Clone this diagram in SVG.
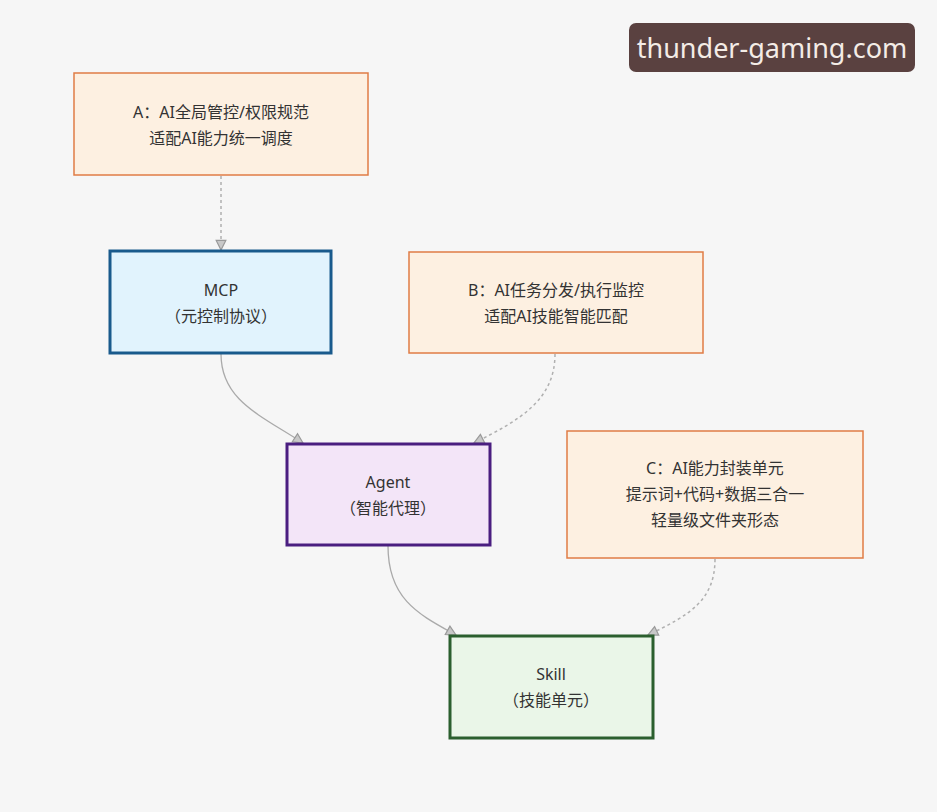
<svg xmlns="http://www.w3.org/2000/svg" width="937" height="812" viewBox="0 0 937 812">
<defs>
<marker id="ah" viewBox="0 0 10 10" refX="9" refY="5" markerWidth="12" markerHeight="12" markerUnits="userSpaceOnUse" orient="auto">
<path d="M1,1 L9,5 L1,9 Z" fill="#c8c8c8" stroke="#999" stroke-width="1"/>
</marker>
<style>
text{font-family:"Noto Sans","Noto Sans CJK SC",sans-serif;font-size:16px;fill:#333;text-anchor:middle}
.note{fill:#fdf0e1;stroke:#e07c45;stroke-width:1.5}
.solid{fill:none;stroke:#aaa;stroke-width:1.3}
.dot{fill:none;stroke:#b0b0b0;stroke-width:1.5;stroke-dasharray:3 3}
</style>
</defs>
<rect width="937" height="812" fill="#f6f6f6"/>
<g id="connectors">
<path class="dot" d="M221,176 L221,250" marker-end="url(#ah)"/>
<path class="solid" d="M221,354 C221,400 260,415 303,443" marker-end="url(#ah)"/>
<path class="dot" d="M555,354 C555,400 520,420 474,443" marker-end="url(#ah)"/>
<path class="solid" d="M388,546 C388,600 420,615 456,635" marker-end="url(#ah)"/>
<path class="dot" d="M715,559 C715,600 690,615 648,635" marker-end="url(#ah)"/>
</g>
<g id="A"><rect class="note" x="74" y="73" width="294" height="102"/>
<text x="221" y="118">A：AI全局管控/权限规范</text><text x="221" y="144">适配AI能力统一调度</text></g>
<g id="MCP"><rect x="110" y="251" width="221" height="102" fill="#e1f3fd" stroke="#195a8c" stroke-width="3"/>
<text x="221" y="296">MCP</text><text x="221" y="322">（元控制协议）</text></g>
<g id="B"><rect class="note" x="409" y="252" width="294" height="101"/>
<text x="556" y="296">B：AI任务分发/执行监控</text><text x="556" y="322">适配AI技能智能匹配</text></g>
<g id="Agent"><rect x="287" y="444" width="203" height="101" fill="#f3e5f8" stroke="#4a1e80" stroke-width="3"/>
<text x="388" y="488">Agent</text><text x="388" y="514">（智能代理）</text></g>
<g id="C"><rect class="note" x="567" y="431" width="296" height="127"/>
<text x="715" y="474">C：AI能力封装单元</text><text x="715" y="500">提示词+代码+数据三合一</text><text x="715" y="526">轻量级文件夹形态</text></g>
<g id="Skill"><rect x="450" y="636" width="203" height="102" fill="#eaf6e8" stroke="#2b5f2e" stroke-width="3"/>
<text x="551" y="680">Skill</text><text x="551" y="706">（技能单元）</text></g>
<g id="watermark"><rect x="629" y="23" width="286" height="49" rx="7" fill="#5a4140"/>
<text x="772" y="58" style="font-size:27px;fill:#f4ece6">thunder-gaming.com</text></g>
</svg>
